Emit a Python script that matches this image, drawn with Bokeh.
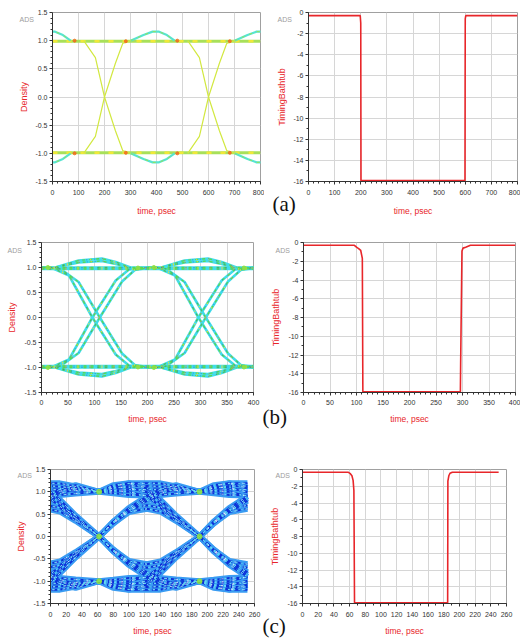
import numpy as np
from bokeh.plotting import figure
from bokeh.models import Label, FixedTicker, PrintfTickFormatter, Range1d, GridBox
from bokeh.embed import file_html
from bokeh.resources import INLINE

# ---------------- data ----------------
# Panel (a) eye diagram (top half; bottom half mirrors it), period = one UI
A_UI = 400
A_FLAT_LEVELS = [1.0, 0.98]
A_FALL_X = [120, 165, 200, 242, 270, 300]
A_FALL_Y = [1.0, 0.70, 0.0, -0.60, -0.95, -1.0]
A_ARC_X = [300, 350, 385, 410, 440, 470]
A_ARC_Y = [1.0, 1.10, 1.16, 1.16, 1.10, 1.0]
A_HOT_X = [85, 282, 480, 682]
A_HOT_Y = [1.0, 0.99, 1.0, 0.99]

# Panel (b) eye diagram
B_UI = 200
B_FLAT_LEVELS = [1.0, 0.97]
B_FALL_X1 = [18, 52, 96, 140, 165, 195, 218]
B_FALL_Y1 = [1.0, 0.84, 0.0, -0.74, -0.96, -1.0, -1.0]
B_FALL_X2 = [18, 36, 70, 110, 152, 176, 205, 218]
B_FALL_Y2 = [1.0, 0.97, 0.71, 0.0, -0.72, -0.95, -1.0, -1.0]
B_ARC_X = [26, 70, 114, 140, 168]
B_ARC_Y1 = [1.0, 1.14, 1.18, 1.11, 1.0]
B_ARC_Y2 = [1.0, 1.10, 1.13, 1.07, 0.99]
B_HOT_X = [12, 182, 212, 382]
B_HOT_Y = [1.0, 0.99, 1.0, 0.99]

# Panel (c) eye diagram: one UI between crossings, several traces per class
C_UI = 128
C_X = [62, 80, 100, 123, 140, 160, 190]
C_HH = [[1.0, 1.12, 1.19, 1.19, 1.19, 1.12, 1.0],
        [1.0, 1.08, 1.13, 1.13, 1.12, 1.07, 1.0],
        [1.0, 1.03, 1.05, 1.05, 1.05, 1.03, 1.0],
        [1.0, 0.97, 0.93, 0.92, 0.93, 0.96, 1.0]]
C_RISE = [[0.0, 0.33, 0.64, 0.90, 1.06, 1.15, 1.0],
          [0.0, 0.29, 0.57, 0.80, 0.96, 1.06, 1.0],
          [0.0, 0.31, 0.60, 0.85, 1.01, 1.10, 1.0]]
C_FALL = [[1.0, 1.15, 1.19, 1.08, 0.82, 0.47, 0.0],
          [1.0, 1.09, 1.10, 0.99, 0.74, 0.41, 0.0],
          [1.0, 1.02, 1.00, 0.90, 0.68, 0.37, 0.0]]
C_PEAK = [[0.0, 0.30, 0.55, 0.62, 0.56, 0.35, 0.0],
          [0.0, 0.33, 0.60, 0.70, 0.64, 0.41, 0.0]]
C_END = 251
C_HOT_X = [62, 190, 62, 190]
C_HOT_Y = [0.0, 0.0, 1.0, 1.0]

# Timing bathtub curves
BT_A_X = [0, 198, 200, 201, 599, 599.5, 600, 602, 800]
BT_A_Y = [-0.3, -0.3, -1.0, -15.92, -15.92, -7.4, -0.6, -0.3, -0.3]
BT_B_X = [0, 96, 100, 104, 108, 111, 112, 296, 296.5, 299, 301, 306, 315, 400]
BT_B_Y = [-0.3, -0.3, -0.5, -0.65, -0.85, -1.7, -15.92, -15.92, -13, -0.9, -0.6, -0.5, -0.3, -0.3]
BT_C_X = [0, 58, 61, 63, 64.5, 65.5, 66.3, 185, 185.3, 186.5, 188, 191, 250]
BT_C_Y = [-0.32, -0.32, -0.5, -0.75, -1.3, -2.5, -15.92, -15.92, -1.4, -0.75, -0.45, -0.32, -0.32]

# Axis ticks
A_XTICKS = [0, 100, 200, 300, 400, 500, 600, 700, 800]
B_XTICKS = [0, 50, 100, 150, 200, 250, 300, 350, 400]
C_XTICKS = [0, 20, 40, 60, 80, 100, 120, 140, 160, 180, 200, 220, 240, 260]
EYE_YTICKS = [-1.5, -1.0, -0.5, 0.0, 0.5, 1.0, 1.5]
BT_YTICKS = [0, -2, -4, -6, -8, -10, -12, -14, -16]

RED = "#e8262a"
FONT = "Liberation Sans"


def minor(ticks, step):
    return list(np.arange(min(ticks), max(ticks) + step / 2, step))


def no_align(p):
    try:
        p.frame_align = False
    except Exception:
        pass


def make_fig(w, h, bl, br, bt, bb, xr, yr, xticks, xstep, yticks, ystep,
             yfmt, ylabel, ystandoff, xlabstandoff, ticksoff):
    p = figure(width=w, height=h, x_range=Range1d(*xr), y_range=Range1d(*yr),
               output_backend="svg", toolbar_location=None,
               min_border_left=bl, min_border_right=br,
               min_border_top=bt, min_border_bottom=bb)
    no_align(p)
    p.outline_line_color = "#a0a0a0"
    p.xaxis.ticker = FixedTicker(ticks=xticks, minor_ticks=minor(xticks, xstep))
    p.yaxis.ticker = FixedTicker(ticks=yticks, minor_ticks=minor(yticks, ystep))
    p.yaxis.formatter = PrintfTickFormatter(format=yfmt)
    p.grid.grid_line_color = "#d6d6d6"
    p.grid.grid_line_width = 1
    p.axis.major_tick_in = 0
    p.axis.major_tick_out = 3
    p.axis.minor_tick_in = 0
    p.axis.minor_tick_out = 2
    p.axis.axis_line_color = "#333333"
    p.axis.major_tick_line_color = "#333333"
    p.axis.minor_tick_line_color = "#333333"
    p.axis.major_label_text_font = FONT
    p.axis.major_label_text_font_size = "7px"
    p.axis.major_label_text_color = "#333333"
    p.xaxis.major_label_standoff = ticksoff
    p.yaxis.major_label_standoff = 2
    p.axis.axis_label_text_font = FONT
    p.axis.axis_label_text_font_style = "normal"
    p.axis.axis_label_text_color = RED
    p.xaxis.axis_label = "time, psec"
    p.xaxis.axis_label_text_font_size = "8.5px"
    p.xaxis.axis_label_standoff = xlabstandoff
    p.yaxis.axis_label = ylabel
    p.yaxis.axis_label_text_font_size = "9px"
    p.yaxis.axis_label_standoff = ystandoff
    return p


def periodic(xs, ys, ui, shifts, mirror=False, xmax=None):
    outx, outy = [], []
    for s in shifts:
        px = [x + s * ui for x in xs]
        py = [(-y if mirror else y) for y in ys]
        if xmax is not None:
            keep = [i for i, x in enumerate(px) if x <= xmax + 1e-9]
            px = [px[i] for i in keep]
            py = [py[i] for i in keep]
        outx.append(px)
        outy.append(py)
    return outx, outy


# ---------------- panel (a) ----------------
pa = make_fig(264, 226, 52, 4, 12, 45, (0, 800), (-1.5, 1.5), A_XTICKS, 20,
              EYE_YTICKS, 0.1, "%.1f", "Density", 3, 8, 5)
flat_x, flat_y = [], []
for lv in A_FLAT_LEVELS:
    for sg in (1, -1):
        flat_x.append([0, 800]); flat_y.append([sg * lv, sg * lv])
pa.multi_line(flat_x, flat_y, line_color="#a8e05a", line_width=1.8)
pa.multi_line(flat_x, flat_y, line_color="#f0e838", line_width=1.4, line_dash="5 9")
arc_x, arc_y = [], []
for m in (False, True):
    ax_, ay_ = periodic(A_ARC_X, A_ARC_Y, A_UI, (-1, 0, 1), mirror=m)
    arc_x += ax_; arc_y += ay_
pa.multi_line(arc_x, arc_y, line_color="#56e4d0", line_width=2.2)
pa.multi_line(arc_x, arc_y, line_color="#98e256", line_width=1.0, line_dash="3 5")
tr_x, tr_y = [], []
for m in (False, True):
    tx, ty = periodic(A_FALL_X, A_FALL_Y, A_UI, (0, 1), mirror=m)
    tr_x += tx; tr_y += ty
pa.multi_line(tr_x, tr_y, line_color="#d2e840", line_width=1.2)
hx = A_HOT_X + A_HOT_X
hy = A_HOT_Y + [-v for v in A_HOT_Y]
pa.scatter(hx, hy, size=3, color="#f07020", alpha=0.9)

# ---------------- bathtub (a) ----------------
ra = make_fig(256, 226, 44, 3, 12, 45, (0, 800), (-16, 0), A_XTICKS, 20,
              BT_YTICKS, 1, "%d", "TimingBathtub", 3, 8, 5)
ra.line(BT_A_X, BT_A_Y, line_color=RED, line_width=1.6)

# ---------------- panel (b) ----------------
pb = make_fig(264, 214, 41, 11, 16, 48, (0, 400), (-1.5, 1.5), B_XTICKS, 10,
              EYE_YTICKS, 0.1, "%.1f", "Density", 4, 6, 4)
bx, by = [], []
for lv in B_FLAT_LEVELS:
    for sg in (1, -1):
        bx.append([0, 400]); by.append([sg * lv, sg * lv])
for (xs, ys) in ((B_FALL_X1, B_FALL_Y1), (B_FALL_X2, B_FALL_Y2),
                 (B_ARC_X, B_ARC_Y1), (B_ARC_X, B_ARC_Y2)):
    for m in (False, True):
        tx, ty = periodic(xs, ys, B_UI, (-1, 0, 1), mirror=m)
        bx += tx; by += ty
pb.multi_line(bx, by, line_color="#40dcea", line_width=2.6)
pb.multi_line(bx, by, line_color="#5ad84e", line_width=1.3, line_dash="3 4")
pb.multi_line(bx, by, line_color="#e6e03c", line_width=1.4, line_dash="1 11")
pb.multi_line(bx, by, line_color="#1e6ec8", line_width=0.7, line_dash="1 7")
hbx = B_HOT_X + B_HOT_X
hby = B_HOT_Y + [-v for v in B_HOT_Y]
pb.scatter(hbx, hby, size=4, color="#90e040", alpha=0.9)

# ---------------- bathtub (b) ----------------
rb = make_fig(256, 214, 39, 5, 16, 48, (0, 400), (-16, 0), B_XTICKS, 10,
              BT_YTICKS, 1, "%d", "TimingBathtub", 4, 6, 4)
rb.line(BT_B_X, BT_B_Y, line_color=RED, line_width=1.6)

# ---------------- panel (c) ----------------
pc = make_fig(264, 198, 50, 10, 29, 35, (0, 260), (-1.5, 1.5), C_XTICKS, 10,
              EYE_YTICKS, 0.1, "%.1f", "Density", 4, 6, 5)
cx, cy = [], []
for group in (C_HH, C_FALL, C_RISE, C_PEAK):
    for ys in group:
        for m in (False, True):
            tx, ty = periodic(C_X, ys, C_UI, (-1, 0, 1), mirror=m, xmax=C_END)
            cx += tx; cy += ty
pc.multi_line(cx, cy, line_color="#3a9cf2", line_width=6)
pc.multi_line(cx, cy, line_color="#0c30d8", line_width=2.0, line_dash="6 3")
pc.multi_line(cx, cy, line_color="#ffffff", line_width=0.7, line_dash="2 9")
pc.multi_line(cx, cy, line_color="#62dcf4", line_width=1.0, line_dash="2 3")
hcx = C_HOT_X + C_HOT_X[2:]
hcy = C_HOT_Y + [-v for v in C_HOT_Y[2:]]
pc.scatter(hcx, hcy, size=5, color="#8ce040", alpha=0.85)

# ---------------- bathtub (c) ----------------
rc = make_fig(256, 198, 38, 14, 29, 35, (0, 260), (-16, 0), C_XTICKS, 10,
              BT_YTICKS, 1, "%d", "TimingBathtub", 4, 6, 5)
rc.line(BT_C_X, BT_C_Y, line_color=RED, line_width=1.6)

# ---------------- transparent overlay for the texts outside the frames ----------------
ov = figure(width=520, height=638, x_range=Range1d(0, 520), y_range=Range1d(638, 0),
            output_backend="svg", toolbar_location=None,
            x_axis_type=None, y_axis_type=None,
            min_border=0, min_border_left=0, min_border_right=0,
            min_border_top=0, min_border_bottom=0)
no_align(ov)
ov.grid.visible = False
ov.outline_line_color = None
ov.background_fill_alpha = 0
ov.border_fill_alpha = 0
for (x, y) in ((19, 15), (277, 15), (7, 246), (275, 246), (17, 471), (275, 471)):
    ov.add_layout(Label(x=x, y=y, text="ADS", text_font=FONT, text_font_size="7px",
                        text_color="#9c9c9c", text_baseline="top"))
for (x, y, t) in ((272, 203, "(a)"), (262, 416, "(b)"), (262, 625, "(c)")):
    ov.add_layout(Label(x=x, y=y, text=t, text_font="Liberation Serif",
                        text_font_size="21px", text_color="#111111",
                        text_baseline="middle"))

layout = GridBox(children=[(pa, 0, 0), (ra, 0, 1), (pb, 1, 0), (rb, 1, 1),
                           (pc, 2, 0), (rc, 2, 1), (ov, 0, 0, 3, 2)], spacing=0)
open("out.html", "w").write(file_html(layout, INLINE))
